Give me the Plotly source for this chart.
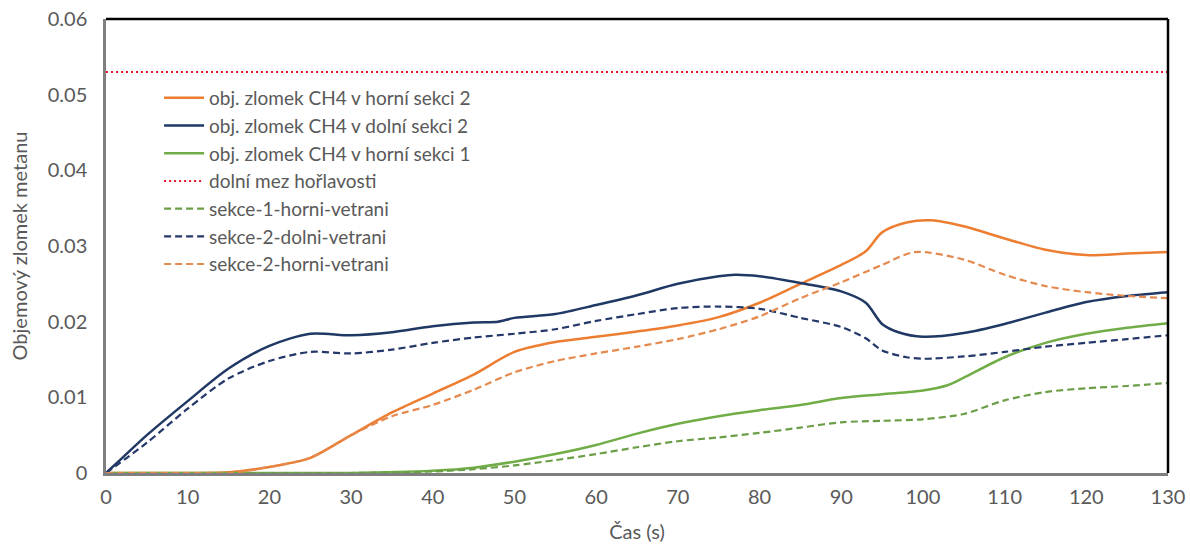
import plotly.graph_objects as go

# Time axis (s) for each measured series
t_h2 = [0, 10, 15, 20, 25, 30, 35, 40, 45, 50, 55, 60, 65, 70, 75, 80, 85, 90, 93, 95, 98, 101, 105, 110, 115, 120, 125, 130]
horni2 = [0, 0, 0.0001, 0.0008, 0.002, 0.005, 0.008, 0.0105, 0.013, 0.016, 0.0173, 0.018, 0.0187, 0.0195, 0.0206, 0.0225, 0.025, 0.0275, 0.0293, 0.0318, 0.0331, 0.0334, 0.0326, 0.031, 0.0295, 0.0288, 0.029, 0.0292]

t_d2 = [0, 2, 5, 10, 15, 20, 25, 30, 35, 40, 45, 48, 50, 55, 60, 65, 70, 75, 77, 80, 85, 90, 93, 95, 97, 100, 105, 110, 115, 120, 125, 130]
dolni2 = [0, 0.002, 0.005, 0.0095, 0.0138, 0.0168, 0.0184, 0.0182, 0.0186, 0.0194, 0.0199, 0.02, 0.0205, 0.021, 0.0222, 0.0235, 0.025, 0.026, 0.0262, 0.026, 0.0251, 0.024, 0.0225, 0.0197, 0.0186, 0.018, 0.0185, 0.0197, 0.0212, 0.0226, 0.0234, 0.0239]

t_h1 = [0, 10, 20, 30, 40, 45, 50, 55, 60, 65, 70, 75, 80, 85, 90, 95, 100, 103, 105, 110, 115, 120, 125, 130]
horni1 = [0, 0, 0, 0, 0.0003, 0.0007, 0.0015, 0.0025, 0.0037, 0.0052, 0.0065, 0.0075, 0.0083, 0.009, 0.0099, 0.0104, 0.0109, 0.0116, 0.0126, 0.0153, 0.0172, 0.0184, 0.0192, 0.0198]

t_v1h = [0, 10, 20, 30, 40, 45, 50, 55, 60, 65, 70, 75, 80, 85, 90, 95, 100, 105, 110, 115, 120, 125, 130]
vetr_1h = [0, 0, 0, 0, 0.0002, 0.0005, 0.001, 0.0017, 0.0025, 0.0034, 0.0042, 0.0047, 0.0053, 0.006, 0.0067, 0.0069, 0.0071, 0.0078, 0.0096, 0.0107, 0.0112, 0.0115, 0.0119]

t_v2d = [0, 5, 10, 15, 20, 25, 30, 35, 40, 45, 50, 55, 60, 65, 70, 75, 80, 85, 90, 93, 95, 98, 100, 105, 110, 115, 120, 125, 130]
vetr_2d = [0, 0.004, 0.0085, 0.0125, 0.0148, 0.016, 0.0158, 0.0163, 0.0172, 0.0179, 0.0184, 0.019, 0.0201, 0.021, 0.0218, 0.022, 0.0217, 0.0205, 0.0193, 0.0178, 0.0162, 0.0153, 0.0151, 0.0154, 0.016, 0.0167, 0.0172, 0.0177, 0.0182]

t_v2h = [0, 10, 15, 20, 25, 30, 35, 40, 45, 50, 55, 60, 65, 70, 75, 80, 85, 90, 95, 99, 105, 110, 115, 120, 125, 130]
vetr_2h = [0, 0, 0, 0.0008, 0.002, 0.005, 0.0075, 0.009, 0.011, 0.0133, 0.0148, 0.0158, 0.0167, 0.0177, 0.019, 0.0207, 0.0231, 0.0252, 0.0275, 0.0292, 0.0282, 0.0262, 0.0247, 0.0239, 0.0234, 0.0231]

# Lower flammability limit
mez_t = [0, 130]
mez = [0.053, 0.053]

x_ticks = [0, 10, 20, 30, 40, 50, 60, 70, 80, 90, 100, 110, 120, 130]
y_ticks = [0, 0.01, 0.02, 0.03, 0.04, 0.05, 0.06]
y_labels = ["0", "0.01", "0.02", "0.03", "0.04", "0.05", "0.06"]

ORANGE = "#ED7D31"
NAVY = "#203864"
GREEN = "#70AD47"
TEXT = "#595959"
FONT = "Lato, Open Sans, sans-serif"

fig = go.Figure()

def add(x, y, name, color, dash="solid", width=2.5, shape="spline"):
    fig.add_trace(go.Scatter(
        x=x, y=y, name=name, mode="lines",
        line=dict(color=color, width=width, dash=dash, shape=shape, smoothing=0.8),
    ))

DASH = "7px,4px"
add(t_h2, horni2, "obj. zlomek CH4 v horní sekci 2", ORANGE)
add(t_d2, dolni2, "obj. zlomek CH4 v dolní sekci 2", NAVY)
add(t_h1, horni1, "obj. zlomek CH4 v horní sekci 1", GREEN)
add(mez_t, mez, "dolní mez hořlavosti", "#E8152B", dash="2px,3px", width=2, shape="linear")
add(t_v1h, vetr_1h, "sekce-1-horni-vetrani", "#6C9E48", dash=DASH, width=2.2)
add(t_v2d, vetr_2d, "sekce-2-dolni-vetrani", "#24386A", dash=DASH, width=2.2)
add(t_v2h, vetr_2h, "sekce-2-horni-vetrani", "#E58A4E", dash=DASH, width=2.2)

# top and right frame edges drawn in black
fig.add_shape(type="line", xref="paper", yref="paper", x0=0, x1=1, y0=1, y1=1,
              line=dict(color="black", width=2.5))
fig.add_shape(type="line", xref="paper", yref="paper", x0=1, x1=1, y0=0, y1=1,
              line=dict(color="black", width=2.5))

fig.update_layout(
    width=1190, height=544,
    margin=dict(l=106, r=22, t=19, b=71),
    paper_bgcolor="white", plot_bgcolor="white",
    font=dict(family=FONT, color=TEXT, size=20),
    showlegend=True,
    legend=dict(
        x=0.05, y=0.868, xanchor="left", yanchor="top",
        bgcolor="rgba(0,0,0,0)", font=dict(family=FONT, size=19, color=TEXT),
        tracegroupgap=0, itemwidth=40,
    ),
    xaxis=dict(
        range=[0, 130], tickvals=x_ticks, showgrid=False, zeroline=False,
        showline=True, linecolor="#7F7F7F", linewidth=2.5, ticks="",
        ticklabelstandoff=4, automargin=False,
        title=dict(text="Čas (s)", font=dict(size=20, color=TEXT), standoff=19),
        tickfont=dict(size=20, color=TEXT),
    ),
    yaxis=dict(
        range=[0, 0.06], tickvals=y_ticks, ticktext=y_labels, showgrid=False,
        zeroline=False, showline=True, linecolor="#7F7F7F", linewidth=2.5,
        ticks="", ticklabelstandoff=12, automargin=False,
        title=dict(text="Objemový zlomek metanu", font=dict(size=20, color=TEXT), standoff=15),
        tickfont=dict(size=20, color=TEXT),
    ),
)

fig.write_html("out.html")
